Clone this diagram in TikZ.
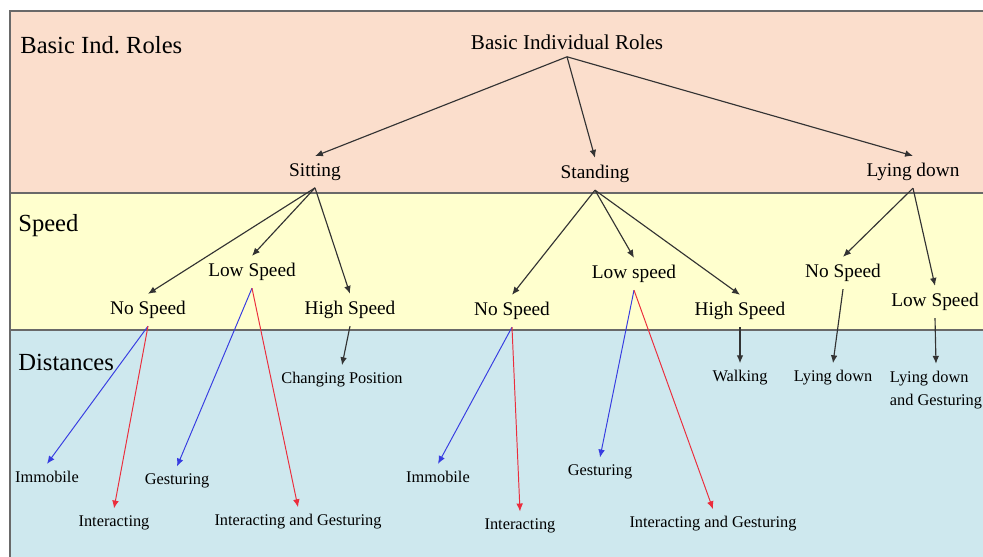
\documentclass[tikz,border=0pt]{standalone}
\usepackage{fontspec}
\setmainfont{Liberation Serif}
\usepackage{tikz}
\usetikzlibrary{arrows.meta}
\frenchspacing

\definecolor{peach}{RGB}{251,222,204}
\definecolor{paleyellow}{RGB}{255,255,206}
\definecolor{paleblue}{RGB}{206,232,238}
\definecolor{framegray}{RGB}{105,105,105}
\definecolor{arrowblue}{RGB}{55,60,225}
\definecolor{arrowred}{RGB}{235,45,60}

\begin{document}
\begin{tikzpicture}[x=0.02cm, y=-0.02cm,
        band/.style = {draw=framegray, line width=0.9pt},
        title/.style = {font=\fontsize{14}{16}\selectfont, anchor=west, inner sep=0pt},
        role/.style = {font=\fontsize{11}{13}\selectfont, inner sep=4pt},
        dist/.style = {font=\fontsize{9.3}{13}\selectfont, inner sep=4pt, align=left},
        link/.style = {-{Latex[length=4.5pt,width=3.8pt]}, draw=black!80, line width=0.65pt},
        bluelink/.style = {link, draw=arrowblue, line width=0.55pt},
        redlink/.style = {link, draw=arrowred, line width=0.55pt}]
        \useasboundingbox (0,0) rectangle (983,557);

        % the three bands
        \draw[band, fill=peach] (10,11) rectangle (984,193);
        \draw[band, fill=paleyellow] (10,193) rectangle (984,330);
        \draw[band, fill=paleblue] (10,330) rectangle (984,558);

        \node[title] (tbasic) at (20,45) {Basic Ind. Roles};
        \node[title] (tspeed) at (18,226) {Speed};
        \node[title] (tdist) at (18,362) {Distances};

        % roles
        \node[role, font=\fontsize{12}{14}\selectfont] (root) at (567,42) {Basic Individual Roles};
        \node[role] (sit) at (315,172) {Sitting};
        \node[role] (stand) at (595,174) {Standing};
        \node[role] (lie) at (913,172) {Lying down};

        % speeds
        \node[role] (sitno) at (148,310) {No Speed};
        \node[role] (sitlow) at (252,272) {Low Speed};
        \node[role] (sithigh) at (350,310) {High Speed};
        \node[role] (stno) at (512,311) {No Speed};
        \node[role] (stlow) at (634,274) {Low speed};
        \node[role] (sthigh) at (740,311) {High Speed};
        \node[role] (lino) at (843,273) {No Speed};
        \node[role] (lilow) at (935,302) {Low Speed};

        % distances
        \node[dist] (imm1) at (47,477) {Immobile};
        \node[dist] (int1) at (114,523) {Interacting};
        \node[dist] (ges1) at (177,481) {Gesturing};
        \node[dist] (ig1) at (298,522) {Interacting and Gesturing};
        \node[dist] (chg) at (342,380) {Changing Position};
        \node[dist] (imm2) at (438,477) {Immobile};
        \node[dist] (int2) at (520,526) {Interacting};
        \node[dist] (ges2) at (600,472) {Gesturing};
        \node[dist] (ig2) at (713,524) {Interacting and Gesturing};
        \node[dist] (walk) at (740,378) {Walking};
        \node[dist] (lyd) at (833,378) {Lying down};
        \node[dist] (lydg) at (936,390) {Lying down\\and Gesturing};

        \draw[link] (root.south) -- (sit.north);
        \draw[link] (root.south) -- (stand.north);
        \draw[link] (root.south) -- (lie.north);

        \draw[link] (sit.south) -- (sitno.north);
        \draw[link] (sit.south) -- (sitlow.north);
        \draw[link] (sit.south) -- (sithigh.north);
        \draw[link] (stand.south) -- (stno.north);
        \draw[link] (stand.south) -- (stlow.north);
        \draw[link] (stand.south) -- (sthigh.north);
        \draw[link] (lie.south) -- (lino.north);
        \draw[link] (lie.south) -- (lilow.north);

        \draw[bluelink] (sitno.south) -- (imm1.north);
        \draw[redlink] (sitno.south) -- (int1.north);
        \draw[bluelink] (sitlow.south) -- (ges1.north);
        \draw[redlink] (sitlow.south) -- (ig1.north);
        \draw[link] (sithigh.south) -- (chg.north);
        \draw[bluelink] (stno.south) -- (imm2.north);
        \draw[redlink] (stno.south) -- (int2.north);
        \draw[bluelink] (stlow.south) -- (ges2.north);
        \draw[redlink] (stlow.south) -- (ig2.north);
        \draw[link] (sthigh.south) -- (walk.north);
        \draw[link] (lino.south) -- (lyd.north);
        \draw[link] (lilow.south) -- (lydg.north);
\end{tikzpicture}
\end{document}
